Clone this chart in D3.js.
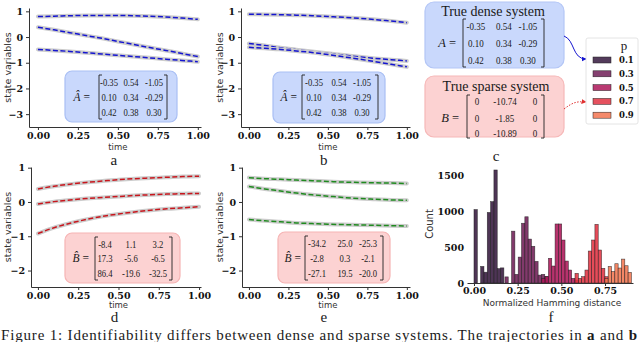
<!DOCTYPE html>
<html>
<head>
<meta charset="utf-8">
<script src="https://cdn.jsdelivr.net/npm/d3@7"></script>
<style>
  body { margin: 0; background: #fff; }
  svg { display: block; }
  .tick text { font-family: "DejaVu Serif", serif; font-weight: bold; font-size: 9.5px; fill: #111; }
  .tick line { stroke: #333; }
  .domain { stroke: #333; }
  .lbl { font-family: "DejaVu Sans", sans-serif; fill: #333; }
  .serif { font-family: "Liberation Serif", "DejaVu Serif", serif; fill: #1a1a1a; }
</style>
</head>
<body>
<svg id="fig" width="640" height="342"></svg>
<script>
// time grid of the trajectories
const timeSteps = [0.0, 0.1, 0.2, 0.3, 0.4, 0.5, 0.6, 0.7, 0.8, 0.9, 1.0];
const timeTicks = [0, 0.25, 0.5, 0.75, 1];

// panel a: dense system, fit
const trajA = [
  [0.80, 0.81, 0.83, 0.84, 0.84, 0.84, 0.83, 0.81, 0.78, 0.74, 0.69],
  [0.38, 0.28, 0.17, 0.06, -0.05, -0.17, -0.29, -0.41, -0.52, -0.64, -0.76],
  [-0.48, -0.52, -0.56, -0.61, -0.66, -0.71, -0.76, -0.81, -0.86, -0.91, -0.96]
];
// panel b: dense system, second fit
const trajB = [
  [0.89, 0.88, 0.87, 0.85, 0.83, 0.80, 0.77, 0.73, 0.68, 0.62, 0.56],
  [-0.25, -0.33, -0.42, -0.49, -0.56, -0.63, -0.70, -0.77, -0.83, -0.88, -0.93],
  [-0.40, -0.44, -0.48, -0.54, -0.60, -0.68, -0.77, -0.86, -0.96, -1.06, -1.16]
];
// panel d: sparse system, fit
const trajD = [
  [0.38, 0.46, 0.52, 0.57, 0.61, 0.65, 0.68, 0.70, 0.72, 0.74, 0.75],
  [-0.06, 0.01, 0.06, 0.10, 0.13, 0.16, 0.19, 0.21, 0.23, 0.24, 0.25],
  [-0.92, -0.75, -0.62, -0.51, -0.42, -0.35, -0.29, -0.24, -0.20, -0.17, -0.14]
];
// panel e: sparse system, second fit
const trajE = [
  [0.71, 0.68, 0.66, 0.64, 0.62, 0.60, 0.58, 0.57, 0.56, 0.55, 0.54],
  [0.45, 0.38, 0.32, 0.26, 0.21, 0.17, 0.13, 0.10, 0.08, 0.06, 0.05],
  [-0.51, -0.55, -0.58, -0.61, -0.63, -0.65, -0.66, -0.67, -0.68, -0.69, -0.70]
];

const yTicksTop = [1, 0, -1, -2, -3];
const yTicksBottom = [1, 0, -1, -2];

// matrices
const matAhat = [["-0.35", "0.54", "-1.05"], ["0.10", "0.34", "-0.29"], ["0.42", "0.38", "0.30"]];
const matA = [["-0.35", "0.54", "-1.05"], ["0.10", "0.34", "-0.29"], ["0.42", "0.38", "0.30"]];
const matB = [["0", "-10.74", "0"], ["0", "-1.85", "0"], ["0", "-10.89", "0"]];
const matBhatD = [["-8.4", "1.1", "3.2"], ["17.3", "-5.6", "-6.5"], ["86.4", "-19.6", "-32.5"]];
const matBhatE = [["-34.2", "25.0", "-25.3"], ["-2.8", "0.3", "-2.1"], ["-27.1", "19.5", "-20.0"]];

// panel f: histograms of normalized Hamming distance per sparsity p
const pLevels = ["0.1", "0.3", "0.5", "0.7", "0.9"];
const pColors = ["#35193e", "#701f57", "#ad1759", "#e13342", "#f37651"];
const binWidth = 0.019;
const histStart = [0.0, 0.177, 0.388, 0.578, 0.749];
const histP01 = [1020, 0, 230, 150, 980, 1130, 1570, 200, 210];
const histP03 = [85, 0, 720, 120, 360, 830, 920, 610, 510, 300, 110, 120, 90];
const histP05 = [60, 90, 343, 236, 820, 820, 597, 305, 180, 65, 40];
const histP07 = [134, 65, 88, 180, 444, 597, 815, 458, 204, 88];
const histP09 = [60, 230, 160, 268, 208, 332, 240, 148];
const histCounts = [histP01, histP03, histP05, histP07, histP09];
const histXTicks = [0, 0.25, 0.5, 0.75];
const histYTicks = [0, 500, 1000, 1500];

const svg = d3.select("#fig");

function bracketMatrix(g, m) {
  // left and right brackets
  const sh = 3;
  const l = m.left, r = m.right, t = m.top, b = m.bottom;
  g.append("path")
    .attr("d", `M${l + sh},${t}H${l}V${b}H${l + sh}M${r - sh},${t}H${r}V${b}H${r - sh}`)
    .attr("fill", "none").attr("stroke", "#222").attr("stroke-width", 0.9);
  m.values.forEach((row, i) => {
    row.forEach((v, j) => {
      g.append("text").attr("class", "serif")
        .attr("transform", `translate(${m.cols[j]},${m.rows[i]}) scale(0.82,1)`)
        .attr("text-anchor", "middle").attr("dominant-baseline", "central")
        .attr("font-size", m.fontSize).text(v);
    });
  });
  const lab = g.append("text").attr("class", "serif")
    .attr("x", m.labelX).attr("y", m.rows[1])
    .attr("text-anchor", "end").attr("dominant-baseline", "central")
    .attr("font-size", m.labelSize || m.fontSize + 1);
  lab.append("tspan").attr("font-style", "italic").text(m.label);
  lab.append("tspan").text(" =");
}

function trajPanel(cfg) {
  const x = d3.scaleLinear().domain(cfg.xDomain).range(cfg.xRange);
  const y = d3.scaleLinear().domain(cfg.yDomain).range(cfg.yRange);
  const g = svg.append("g");

  g.append("g").attr("transform", `translate(0,${cfg.yRange[0]})`)
    .call(d3.axisBottom(x).tickValues(timeTicks).tickFormat(d3.format(".2f"))
      .tickSize(3).tickPadding(2).tickSizeOuter(0));
  g.append("g").attr("transform", `translate(${cfg.xRange[0]},0)`)
    .call(d3.axisLeft(y).tickValues(cfg.yTicks).tickFormat(d3.format("d"))
      .tickSize(3).tickPadding(3).tickSizeOuter(0));

  const line = d3.line()
    .x((d, i) => x(timeSteps[i]))
    .y(d => y(d))
    .curve(d3.curveMonotoneX);

  cfg.series.forEach(s => {
    g.append("path").attr("d", line(s)).attr("fill", "none")
      .attr("stroke", "#cccccc").attr("stroke-width", 4).attr("stroke-linecap", "round");
    g.append("path").attr("d", line(s)).attr("fill", "none")
      .attr("stroke", cfg.color).attr("stroke-width", 1.5).attr("stroke-dasharray", "5,2.5");
  });

  // inset with the estimated matrix
  const bx = cfg.box;
  g.append("rect").attr("x", bx[0]).attr("y", bx[1]).attr("width", bx[2]).attr("height", bx[3])
    .attr("rx", 7).attr("fill", cfg.boxFill).attr("stroke", cfg.boxStroke).attr("stroke-width", 1.2);
  bracketMatrix(g, cfg.matrix);

  const cx = (x(0) + x(1)) / 2;
  g.append("text").attr("class", "lbl").attr("x", cx).attr("y", cfg.timeY)
    .attr("text-anchor", "middle").attr("dominant-baseline", "central").attr("font-size", 8.5).text("time");
  g.append("text").attr("class", "lbl")
    .attr("transform", `translate(${cfg.yLabelX},${(cfg.yRange[0] + cfg.yRange[1]) / 2}) rotate(-90)`)
    .attr("text-anchor", "middle").attr("dominant-baseline", "central").attr("font-size", 9.5)
    .text("state variables");
  g.append("text").attr("class", "serif").attr("x", cx - 4).attr("y", cfg.letterY)
    .attr("text-anchor", "middle").attr("dominant-baseline", "central").attr("font-size", 15)
    .text(cfg.letter);
}

trajPanel({
  xDomain: [-0.056, 1.02], xRange: [29, 201],
  yDomain: [-3.5, 1.13], yRange: [127, 8], yTicks: yTicksTop,
  series: trajA, color: "#1515d0",
  box: [65, 71, 112, 51], boxFill: "#c9d8fc", boxStroke: "#a9bff4",
  matrix: { values: matAhat, label: "Â", labelX: 90, left: 99, right: 167, top: 75, bottom: 119,
    cols: [109, 131, 154], rows: [82, 97, 112], fontSize: 10.5 },
  timeY: 147, yLabelX: 7, letterY: 160, letter: "a"
});
trajPanel({
  xDomain: [-0.05, 1.02], xRange: [241, 410],
  yDomain: [-3.5, 1.13], yRange: [127, 8], yTicks: yTicksTop,
  series: trajB, color: "#1515d0",
  box: [273, 72, 112, 51], boxFill: "#c9d8fc", boxStroke: "#a9bff4",
  matrix: { values: matAhat, label: "Â", labelX: 297, left: 302, right: 378, top: 75, bottom: 119,
    cols: [314, 339, 362], rows: [82, 97, 112], fontSize: 10.5 },
  timeY: 147, yLabelX: 219, letterY: 160, letter: "b"
});
trajPanel({
  xDomain: [-0.043, 1.012], xRange: [31, 201],
  yDomain: [-2.48, 1.02], yRange: [287, 167], yTicks: yTicksBottom,
  series: trajD, color: "#c8161d",
  box: [65, 233, 115, 50], boxFill: "#fcd2d2", boxStroke: "#f6b4b4",
  matrix: { values: matBhatD, label: "B\u0302", labelX: 89, left: 95, right: 172, top: 237, bottom: 280,
    cols: [105, 131, 158], rows: [244, 258, 273], fontSize: 10.5 },
  timeY: 305, yLabelX: 7, letterY: 317, letter: "d"
});
trajPanel({
  xDomain: [-0.044, 1.02], xRange: [242, 410],
  yDomain: [-2.48, 1.02], yRange: [287, 167], yTicks: yTicksBottom,
  series: trajE, color: "#1f8a1f",
  box: [278, 232, 112, 51], boxFill: "#fcd2d2", boxStroke: "#f6b4b4",
  matrix: { values: matBhatE, label: "B\u0302", labelX: 301, left: 305, right: 383, top: 236, bottom: 280,
    cols: [317, 345, 368], rows: [243, 258, 273], fontSize: 10.5 },
  timeY: 305, yLabelX: 219, letterY: 317, letter: "e"
});

// panel c: true systems and legend
(function () {
  const g = svg.append("g");
  g.append("rect").attr("x", 425).attr("y", 2).attr("width", 139).attr("height", 66).attr("rx", 9)
    .attr("fill", "#c9d8fc").attr("stroke", "#b3c6f6").attr("stroke-width", 1.2);
  g.append("rect").attr("x", 425).attr("y", 76).attr("width", 139).attr("height", 61).attr("rx", 9)
    .attr("fill", "#fcd2d2").attr("stroke", "#f6b8b8").attr("stroke-width", 1.2);
  g.append("text").attr("class", "serif").attr("x", 493).attr("y", 11)
    .attr("text-anchor", "middle").attr("dominant-baseline", "central").attr("font-size", 14)
    .text("True dense system");
  g.append("text").attr("class", "serif").attr("x", 496).attr("y", 86)
    .attr("text-anchor", "middle").attr("dominant-baseline", "central").attr("font-size", 14)
    .text("True sparse system");
  bracketMatrix(g, { values: matA, label: "A", labelX: 456, left: 463, right: 544, top: 19, bottom: 67,
    cols: [476, 504, 528], rows: [26, 43, 60], fontSize: 11, labelSize: 12.5 });
  bracketMatrix(g, { values: matB, label: "B", labelX: 459, left: 467, right: 544, top: 95, bottom: 138,
    cols: [477, 505, 535], rows: [101, 118, 133], fontSize: 11, labelSize: 12.5 });

  const defs = svg.append("defs");
  [["arrBlue", "#1515d0"], ["arrRed", "#e03030"]].forEach(([id, c]) => {
    defs.append("marker").attr("id", id).attr("viewBox", "0 0 10 10").attr("refX", 9).attr("refY", 5)
      .attr("markerWidth", 5).attr("markerHeight", 5).attr("orient", "auto")
      .append("path").attr("d", "M0,0L10,5L0,10Z").attr("fill", c);
  });
  g.append("path").attr("d", "M564,36C575,40 572,59 586,59").attr("fill", "none")
    .attr("stroke", "#1515d0").attr("stroke-width", 1).attr("marker-end", "url(#arrBlue)");
  g.append("path").attr("d", "M564,109C572,103 576,101 586,102").attr("fill", "none")
    .attr("stroke", "#e03030").attr("stroke-width", 1).attr("stroke-dasharray", "1.5,1.5")
    .attr("marker-end", "url(#arrRed)");

  // legend
  g.append("rect").attr("x", 586).attr("y", 38).attr("width", 52).attr("height", 86).attr("rx", 2)
    .attr("fill", "#fff").attr("stroke", "#dddddd").attr("stroke-width", 0.8);
  g.append("text").attr("class", "serif").attr("x", 624).attr("y", 45)
    .attr("text-anchor", "middle").attr("dominant-baseline", "central").attr("font-size", 13).text("p");
  pLevels.forEach((p, i) => {
    const yy = 60 + i * 13.8;
    g.append("rect").attr("x", 593).attr("y", yy - 3).attr("width", 18).attr("height", 6)
      .attr("fill", pColors[i]).attr("fill-opacity", 0.85).attr("stroke", "#222").attr("stroke-width", 0.5);
    g.append("text").attr("x", 619).attr("y", yy).attr("dominant-baseline", "central")
      .attr("font-family", "DejaVu Serif, serif").attr("font-weight", "bold").attr("font-size", 8.5)
      .attr("fill", "#111").text(p);
  });
  g.append("text").attr("class", "serif").attr("x", 496).attr("y", 156)
    .attr("text-anchor", "middle").attr("dominant-baseline", "central").attr("font-size", 15).text("c");
})();

// panel f: histogram
(function () {
  const x = d3.scaleLinear().domain([-0.04, 0.91]).range([467, 633]);
  const y = d3.scaleLinear().domain([0, 1667]).range([283, 163]);
  const g = svg.append("g");

  histCounts.forEach((counts, k) => {
    g.append("g").selectAll("rect")
      .data(counts.map((c, i) => ({ c, x0: histStart[k] + i * binWidth })).filter(d => d.c > 0))
      .join("rect")
      .attr("x", d => x(d.x0))
      .attr("width", d => x(d.x0 + binWidth) - x(d.x0))
      .attr("y", d => y(d.c))
      .attr("height", d => y(0) - y(d.c))
      .attr("fill", pColors[k]).attr("fill-opacity", 0.88)
      .attr("stroke", "#1a1a1a").attr("stroke-opacity", 0.75).attr("stroke-width", 0.6);
  });

  g.append("g").attr("transform", "translate(0,283)")
    .call(d3.axisBottom(x).tickValues(histXTicks).tickFormat(d3.format(".2f"))
      .tickSize(3).tickPadding(1).tickSizeOuter(0));
  const ya = g.append("g").attr("transform", "translate(467,0)")
    .call(d3.axisLeft(y).tickValues(histYTicks).tickFormat(d3.format("d")).tickSize(0).tickPadding(3));
  ya.select(".domain").remove();
  ya.selectAll(".tick text").attr("font-size", 9);

  g.append("text").attr("class", "lbl").attr("x", 552).attr("y", 303)
    .attr("text-anchor", "middle").attr("dominant-baseline", "central").attr("font-size", 9)
    .text("Normalized Hamming distance");
  g.append("text").attr("class", "lbl").attr("transform", "translate(429,224) rotate(-90)")
    .attr("text-anchor", "middle").attr("dominant-baseline", "central").attr("font-size", 10).text("Count");
  g.append("text").attr("class", "serif").attr("x", 551).attr("y", 317)
    .attr("text-anchor", "middle").attr("dominant-baseline", "central").attr("font-size", 15).text("f");
})();

// caption (cut off at the bottom edge)
const cap = svg.append("text").attr("class", "serif").attr("x", 1).attr("y", 340)
  .attr("font-size", 15).attr("fill", "#000")
  .attr("textLength", 636).attr("lengthAdjust", "spacing");
cap.append("tspan").text("Figure 1: Identifiability differs between dense and sparse systems. The trajectories in ");
cap.append("tspan").attr("font-weight", "bold").text("a");
cap.append("tspan").text(" and ");
cap.append("tspan").attr("font-weight", "bold").text("b");
</script>
</body>
</html>
